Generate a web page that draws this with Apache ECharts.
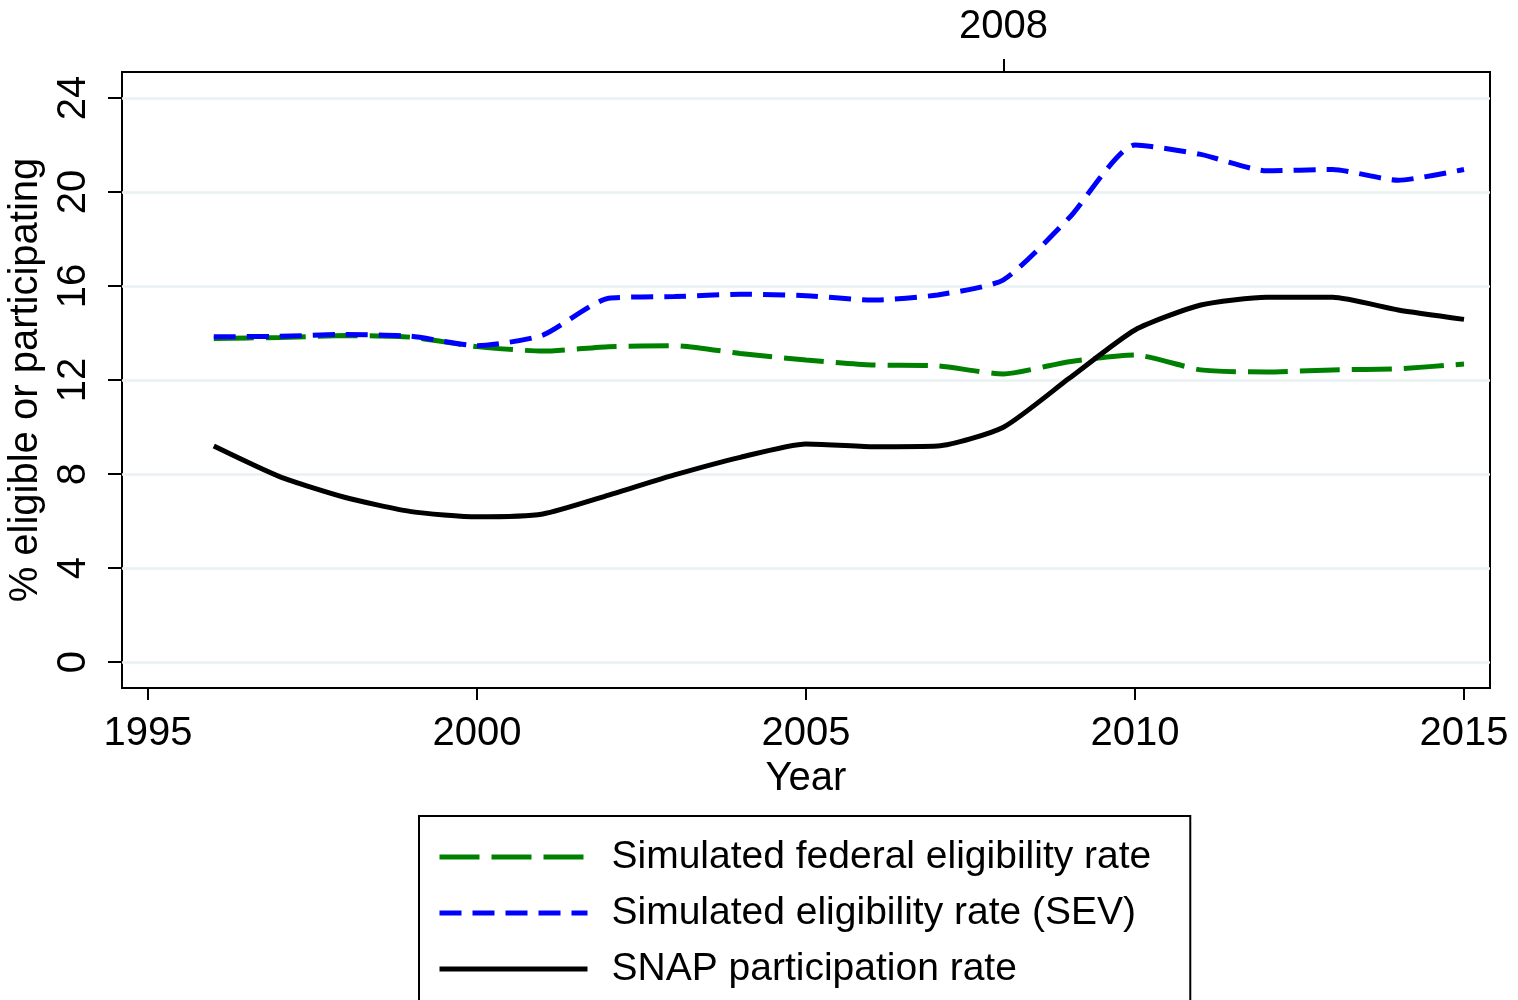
<!DOCTYPE html>
<html>
<head>
<meta charset="utf-8">
<script src="https://cdn.jsdelivr.net/npm/echarts@6/dist/echarts.min.js"></script>
<style>
  html, body { margin: 0; padding: 0; background: #fff; }
  #chart { width: 1518px; height: 1000px; }
</style>
</head>
<body>
<div id="chart"></div>
<script>
// Survey years
const years = [1996, 1997, 1998, 1999, 2000, 2001, 2002, 2003, 2004, 2005,
               2006, 2007, 2008, 2009, 2010, 2011, 2012, 2013, 2014, 2015];

// Rates, percent of population
const federalRate = [13.77, 13.81, 13.89, 13.82, 13.42, 13.23, 13.42, 13.46, 13.13, 12.85,
                     12.64, 12.60, 12.26, 12.78, 13.06, 12.43, 12.34, 12.43, 12.48, 12.68];
const sevRate     = [13.84, 13.86, 13.94, 13.86, 13.46, 13.91, 15.48, 15.55, 15.65, 15.59,
                     15.40, 15.62, 16.26, 18.90, 22.00, 21.60, 20.90, 20.96, 20.50, 20.96];
const snapRate    = [9.19, 7.89, 7.00, 6.40, 6.18, 6.30, 7.10, 7.96, 8.71, 9.28,
                     9.16, 9.19, 9.99, 12.07, 14.13, 15.19, 15.52, 15.52, 14.98, 14.58];

// Axis ticks
const xTicks = [1995, 2000, 2005, 2010, 2015];
const yTicks = [0, 4, 8, 12, 16, 20, 24];
const topTicks = [2008];

const seriesNames = [
  'Simulated federal eligibility rate',
  'Simulated eligibility rate (SEV)',
  'SNAP participation rate'
];

const pairs = arr => years.map((y, i) => [y, arr[i]]);
const plain = v => String(v);

const FONT = '"Liberation Sans", Arial, sans-serif';
const txt = { color: '#000', fontFamily: FONT, fontSize: 40 };
const legendTxt = { color: '#000', fontFamily: FONT, fontSize: 39 };

const chart = echarts.init(document.getElementById('chart'), null, { renderer: 'canvas' });

chart.setOption({
  animation: false,
  backgroundColor: '#fff',
  grid: {
    left: 122, right: 28, top: 72, bottom: 312,
    outerBoundsMode: 'none',
    containLabel: false,
    show: true, borderColor: '#000', borderWidth: 2, backgroundColor: '#fff'
  },
  legend: {
    orient: 'vertical',
    left: 419, top: 816, height: 300,
    padding: [21, 39, 30, 18],
    itemGap: 16,
    itemWidth: 148,
    itemHeight: 20,
    borderColor: '#000',
    borderWidth: 2,
    itemStyle: { opacity: 0 },
    lineStyle: { width: 5 },
    textStyle: Object.assign({}, legendTxt, { padding: [0, 0, 0, 19], lineHeight: 40 }),
    data: seriesNames
  },
  xAxis: [
    {
      type: 'value', position: 'bottom',
      min: 1994.605, max: 2015.395,
      axisLine: { show: false, onZero: false },
      axisTick: { show: true, customValues: xTicks, length: 12, lineStyle: { color: '#000', width: 2 } },
      axisLabel: Object.assign({ customValues: xTicks, margin: 26, formatter: plain }, txt),
      splitLine: { show: false },
      name: 'Year', nameLocation: 'middle', nameGap: 62,
      nameTextStyle: txt
    },
    {
      type: 'value', position: 'top',
      min: 1994.605, max: 2015.395,
      axisLine: { show: false, onZero: false },
      axisTick: { show: true, customValues: topTicks, length: 13, lineStyle: { color: '#000', width: 2 } },
      axisLabel: Object.assign({ customValues: topTicks, margin: 25, formatter: plain }, txt),
      splitLine: { show: false }
    }
  ],
  yAxis: {
    type: 'value',
    min: -1.106, max: 25.106,
    axisLine: { show: false, onZero: false },
    axisTick: { show: true, customValues: yTicks, length: 14, lineStyle: { color: '#000', width: 2 } },
    axisLabel: Object.assign({ customValues: yTicks, rotate: 90, margin: 28, formatter: plain }, txt),
    splitLine: { show: true, lineStyle: { color: '#e9f1f3', width: 2.5 } },
    name: '% eligible or participating',
    nameLocation: 'middle', nameRotate: 90, nameGap: 57,
    nameTextStyle: txt
  },
  series: [
    {
      name: seriesNames[0], type: 'line', data: pairs(federalRate),
      symbol: 'none', smooth: 0.2, z: 3,
      lineStyle: { color: '#008000', width: 5, type: [40, 12] },
      itemStyle: { color: '#008000' }
    },
    {
      name: seriesNames[1], type: 'line', data: pairs(sevRate),
      symbol: 'none', smooth: 0.2, z: 4,
      lineStyle: { color: '#0000ff', width: 5, type: [22, 11] },
      itemStyle: { color: '#0000ff' }
    },
    {
      name: seriesNames[2], type: 'line', data: pairs(snapRate),
      symbol: 'none', smooth: 0.2, z: 5,
      lineStyle: { color: '#000', width: 5, type: 'solid' },
      itemStyle: { color: '#000' }
    }
  ]
});
</script>
</body>
</html>
